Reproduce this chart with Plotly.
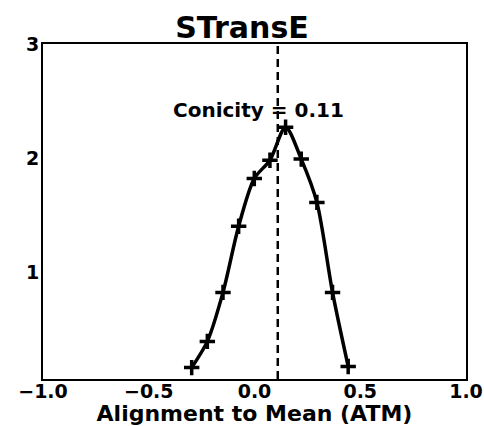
import plotly.graph_objects as go

atm = [-0.297, -0.223, -0.149, -0.075, -0.001, 0.073, 0.147, 0.221, 0.295, 0.369, 0.443]
density = [0.16, 0.39, 0.82, 1.40, 1.82, 1.98, 2.27, 1.99, 1.61, 0.82, 0.17]
conicity = 0.11
x_ticks = [-1.0, -0.5, 0.0, 0.5, 1.0]
y_ticks = [1, 2, 3]

font = "DejaVu Sans"

fig = go.Figure()
fig.add_trace(go.Scatter(
    x=atm, y=density, mode="lines+markers",
    line=dict(color="black", width=3.5, shape="spline", smoothing=0.8),
    marker=dict(symbol="cross-thin", size=11, line=dict(color="black", width=3.5)),
    showlegend=False,
))
fig.add_shape(type="line", x0=conicity, x1=conicity, y0=0, y1=1, yref="paper",
              line=dict(color="black", width=2.5, dash="8px,5px"))
fig.add_annotation(x=0.02, y=2.42, text="<b>Conicity = 0.11</b>", showarrow=False,
                   font=dict(family=font, size=20, color="black"))

fig.update_layout(
    width=484, height=426,
    margin=dict(l=43, r=18, t=44, b=47),
    paper_bgcolor="white", plot_bgcolor="white",
    title=dict(text="<b>STransE</b>", x=0.5, xanchor="center", y=0.936, yanchor="middle",
               font=dict(family=font, size=30, color="black")),
    font=dict(family=font, color="black"),
)
fig.update_xaxes(
    range=[-1, 1], tickvals=x_ticks, ticktext=["<b>%s</b>" % ("\u2212%.1f" % -v if v < 0 else "%.1f" % v) for v in x_ticks],
    tickfont=dict(family=font, size=19), showgrid=False, zeroline=False,
    showline=True, linecolor="black", linewidth=2, mirror=True, automargin=False,
    ticks="", ticklabelstandoff=-6,
    title=dict(text="<b>Alignment to Mean (ATM)</b>", font=dict(family=font, size=22), standoff=4),
)
fig.update_yaxes(
    range=[0.06, 3], tickvals=y_ticks, ticktext=["<b>%d</b>" % v for v in y_ticks],
    tickfont=dict(family=font, size=19), showgrid=False, zeroline=False,
    showline=True, linecolor="black", linewidth=2, mirror=True, automargin=False,
    ticks="", ticklabelstandoff=-2,
)
fig.write_html("out.html", config={"displayModeBar": False},
               post_script="document.body.style.margin='0';")
